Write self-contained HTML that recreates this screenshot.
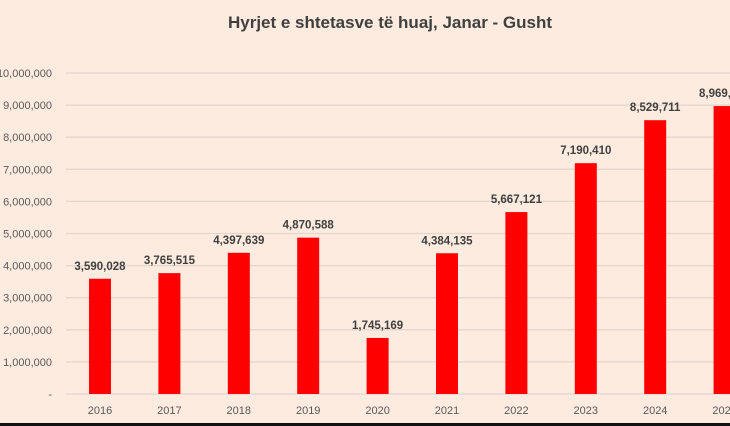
<!DOCTYPE html>
<html><head><meta charset="utf-8"><style>
html,body{margin:0;padding:0;background:#fdebdf;}
svg{display:block;font-family:"Liberation Sans",sans-serif;}
</style></head><body>
<svg id="chart" width="730" height="426">
<rect x="0" y="0" width="730" height="426" fill="#fdebdf"/>
<text x="390" y="28" text-anchor="middle" font-size="17" font-weight="bold" fill="#404040">Hyrjet e shtetasve të huaj, Janar - Gusht</text>
<g id="grid"></g><g id="bars"></g>
<rect x="0" y="423" width="730" height="3" fill="#111"/>
</svg>
<script>
const categories=["2016","2017","2018","2019","2020","2021","2022","2023","2024","2025"];
const values=[3590028,3765515,4397639,4870588,1745169,4384135,5667121,7190410,8529711,8969591];
const ticks=[0,1000000,2000000,3000000,4000000,5000000,6000000,7000000,8000000,9000000,10000000];
const NS="http://www.w3.org/2000/svg";
const y0=394,y10=73;
const y=v=>y0-(v/10000000)*(y0-y10);
const x=i=>100+i*69.4;
const fmt=v=>v.toLocaleString("en-US");
const grid=document.getElementById("grid"),bars=document.getElementById("bars");
function mk(t,a,p){const e=document.createElementNS(NS,t);for(const k in a)e.setAttribute(k,a[k]);p.appendChild(e);return e;}
ticks.forEach(t=>{
 const l=mk("line",{x1:66,x2:730,y1:y(t),y2:y(t),stroke:"#e2d6cd","stroke-width":1.3},grid);
 
 
 const tx=mk("text",{x:52,y:y(t)+4,"text-anchor":"end","font-size":11,fill:"#595959"},grid);
 tx.textContent=t===0?"-":fmt(t);
 
 
});
values.forEach((v,i)=>{
 const r=mk("rect",{x:x(i)-11,y:y(v),width:22,height:y0-y(v),fill:"#ff0000"},bars);
 
 
 const lb=mk("text",{x:x(i),y:y(v)-9,"text-anchor":"middle","font-size":11.5,"font-weight":"bold",fill:"#404040"},bars);
 lb.textContent=fmt(v);
 
 
 const c=mk("text",{x:x(i),y:414,"text-anchor":"middle","font-size":11,fill:"#595959"},bars);
 c.textContent=categories[i];
 
 
});
</script>
</body></html>
